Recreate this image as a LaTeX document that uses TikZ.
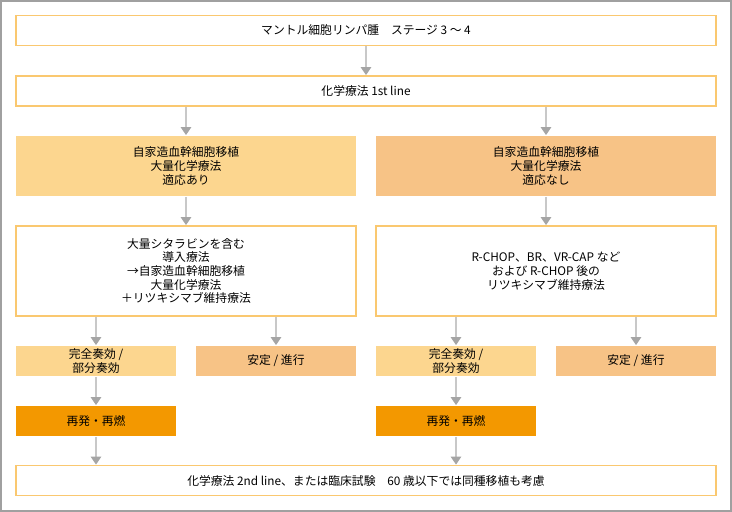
\documentclass[tikz,border=0pt]{standalone}
\usepackage{fontspec}
\setmainfont{Noto Sans CJK JP}
\usetikzlibrary{arrows.meta}
\definecolor{frame}{RGB}{160,160,160}
\definecolor{bord}{RGB}{250,200,112}
\definecolor{fillY}{RGB}{252,214,143}
\definecolor{fillO}{RGB}{247,195,134}
\definecolor{fillS}{RGB}{243,152,0}
\definecolor{arrline}{RGB}{200,200,200}
\definecolor{arrtip}{RGB}{165,165,165}
\tikzset{
  box/.style={draw=bord, line width=1.6pt, fill=white, inner sep=0pt, align=center,
    font=\fontsize{11.8pt}{13.7pt}\selectfont},
  wide/.style={box, minimum width=700pt, minimum height=30pt},
  half/.style={box, minimum width=340pt},
  small/.style={box, draw=none, minimum width=160pt, minimum height=30pt},
  arr/.style={draw=arrline, line width=2pt,
    -{Triangle[width=10pt,length=8pt,fill=arrtip,color=arrtip]}}
}
\begin{document}
\begin{tikzpicture}[x=1pt,y=-1pt]
\useasboundingbox (0,0) rectangle (732,512);
\draw[frame, line width=2pt] (1,1) rectangle (731,511);

\node[wide] (top) at (366,30.5) {マントル細胞リンパ腫\quad ステージ 3 ～ 4};
\node[wide] (c1) at (366,91) {化学療法 1st line};

\node[half, draw=none, fill=fillY, minimum height=60pt] (l1) at (186,166) {自家造血幹細胞移植\\大量化学療法\\適応あり};
\node[half, draw=none, fill=fillO, minimum height=60pt] (r1) at (546,166) {自家造血幹細胞移植\\大量化学療法\\適応なし};

\node[half, minimum height=90pt] (l2) at (186,271) {大量シタラビンを含む\\導入療法\\→自家造血幹細胞移植\\大量化学療法\\＋リツキシマブ維持療法};
\node[half, minimum height=90pt] (r2) at (546,271) {R-CHOP、BR、VR-CAP など\\および R-CHOP 後の\\リツキシマブ維持療法};

\node[small, fill=fillY] (lcr) at (96,361) {完全奏効 /\\部分奏効};
\node[small, fill=fillO] (lsd) at (276,361) {安定 / 進行};
\node[small, fill=fillS] (lrel) at (96,421) {再発・再燃};
\node[small, fill=fillY] (rcr) at (456,361) {完全奏効 /\\部分奏効};
\node[small, fill=fillO] (rsd) at (636,361) {安定 / 進行};
\node[small, fill=fillS] (rrel) at (456,421) {再発・再燃};

\node[wide] (bot) at (366,480.5) {化学療法 2nd line、または臨床試験\quad 60 歳以下では同種移植も考慮};

\draw[arr] (top.south) -- (c1.north);
\draw[arr] (c1.south -| l1.north) -- (l1.north);
\draw[arr] (c1.south -| r1.north) -- (r1.north);
\draw[arr] (l1.south) -- (l2.north);
\draw[arr] (r1.south) -- (r2.north);
\draw[arr] (l2.south -| lcr.north) -- (lcr.north);
\draw[arr] (l2.south -| lsd.north) -- (lsd.north);
\draw[arr] (r2.south -| rcr.north) -- (rcr.north);
\draw[arr] (r2.south -| rsd.north) -- (rsd.north);
\draw[arr] (lcr.south) -- (lrel.north);
\draw[arr] (rcr.south) -- (rrel.north);
\draw[arr] (lrel.south) -- (lrel.south |- bot.north);
\draw[arr] (rrel.south) -- (rrel.south |- bot.north);
\end{tikzpicture}
\end{document}
